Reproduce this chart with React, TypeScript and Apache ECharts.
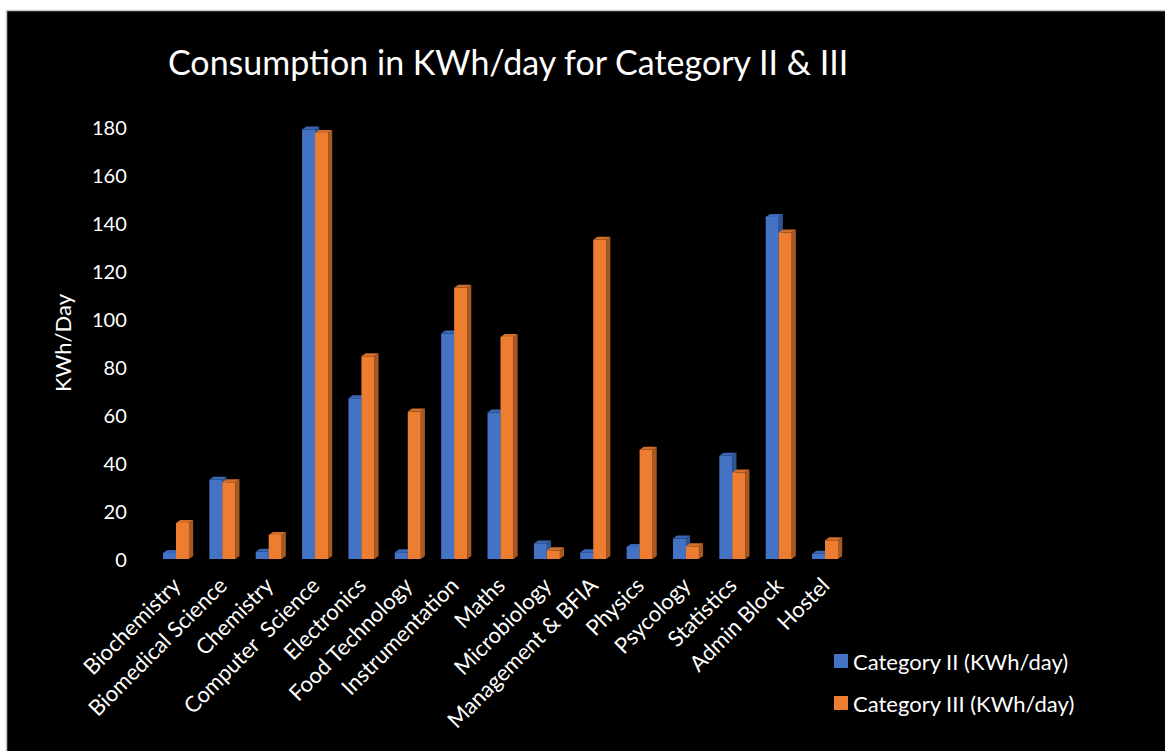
import React, { useEffect, useRef } from "react";
import * as echarts from "echarts";

const categories = [
  "Biochemistry",
  "Biomedical Science",
  "Chemistry",
  "Computer  Science",
  "Electronics",
  "Food Technology",
  "Instrumentation",
  "Maths",
  "Microbiology",
  "Management & BFIA",
  "Physics",
  "Psycology",
  "Statistics",
  "Admin Block",
  "Hostel",
];

const categoryII = [2.5, 33, 3, 179, 67, 2.8, 94, 61, 6.5, 2.8, 5, 8.5, 43, 142.5, 2.2];
const categoryIII = [15, 32, 10, 177.5, 84.5, 61.5, 113, 92.5, 3.6, 133, 45.5, 5.3, 36, 136, 7.8];

const yTicks = { min: 0, max: 180, interval: 20 };

const seriesNames = ["Category II (KWh/day)", "Category III (KWh/day)"];

const palettes = [
  { front: "#4472C4", side: "#2F5597", top: "#3A66B5" },
  { front: "#ED7D31", side: "#A65A22", top: "#D06E2A" },
];

const FONT = "Lato, 'Open Sans', sans-serif";

function makeRenderItem(sIdx: number) {
  const pal = palettes[sIdx];
  return (params: any, api: any) => {
    const xi = api.value(0);
    const v = api.value(1);
    const top = api.coord([xi, v]);
    const base = api.coord([xi, 0]);
    const band = api.size([1, 0])[0];
    const w = band * 0.28;
    const dx = band * 0.09;
    const dy = band * 0.065;
    const x0 = sIdx === 0 ? top[0] - w : top[0];
    const x1 = x0 + w;
    const ty = top[1];
    const by = base[1];
    return {
      type: "group",
      children: [
        {
          type: "polygon",
          shape: { points: [[x1, ty], [x1 + dx, ty - dy], [x1 + dx, by - dy], [x1, by]] },
          style: { fill: pal.side },
        },
        {
          type: "polygon",
          shape: { points: [[x0, ty], [x1, ty], [x1, by], [x0, by]] },
          style: { fill: pal.front },
        },
        {
          type: "polygon",
          shape: { points: [[x0, ty], [x0 + dx, ty - dy], [x1 + dx, ty - dy], [x1, ty]] },
          style: { fill: pal.top },
        },
      ],
    };
  };
}

export default function App() {
  const ref = useRef<HTMLDivElement>(null);
  useEffect(() => {
    if (!ref.current) return;
    const chart = echarts.init(ref.current, null, { renderer: "svg" });
    const seriesData = [categoryII, categoryIII];
    chart.setOption({
      animation: false,
      backgroundColor: "#ffffff",
      graphic: [
        {
          type: "rect",
          z: -10,
          silent: true,
          shape: { x: 6.5, y: 10.5, width: 1170, height: 760 },
          style: { fill: "#000000", stroke: "#c8c8c8", lineWidth: 1.5 },
        },
      ],
      title: {
        text: "Consumption in KWh/day for Category II & III",
        left: 163,
        top: 39,
        textStyle: { color: "#ffffff", fontSize: 34, fontWeight: "normal", fontFamily: FONT },
      },
      legend: {
        orient: "vertical",
        left: 834,
        top: 650,
        padding: 0,
        itemWidth: 14,
        itemHeight: 14,
        itemGap: 20,
        icon: "rect",
        textStyle: { color: "#ffffff", fontSize: 22, fontFamily: FONT, lineHeight: 22 },
        data: seriesNames,
      },
      grid: { left: 152.8, right: 1165 - 848.2, top: 127, bottom: 751 - 559, containLabel: false },
      xAxis: {
        type: "category",
        data: categories,
        boundaryGap: true,
        axisLine: { show: false },
        axisTick: { show: false },
        axisLabel: {
          rotate: 45,
          interval: 0,
          margin: 22,
          color: "#ffffff",
          fontSize: 22,
          fontFamily: FONT,
        },
      },
      yAxis: {
        type: "value",
        min: yTicks.min,
        max: yTicks.max,
        interval: yTicks.interval,
        name: "KWh/Day",
        nameLocation: "middle",
        nameGap: 79,
        nameRotate: 90,
        nameTextStyle: { color: "#ffffff", fontSize: 22, fontFamily: FONT },
        axisLine: { show: false },
        axisTick: { show: false },
        splitLine: { show: false },
        axisLabel: { color: "#ffffff", fontSize: 20, fontFamily: FONT, margin: 26 },
      },
      series: seriesData.map((arr, sIdx) => ({
        type: "custom",
        name: seriesNames[sIdx],
        renderItem: makeRenderItem(sIdx),
        itemStyle: { color: palettes[sIdx].front },
        encode: { x: 0, y: 1 },
        data: arr.map((v, i) => [i, v]),
        clip: false,
        z: 2 + sIdx,
      })),
    });
    return () => chart.dispose();
  }, []);
  return (
    <div
      ref={ref}
      style={{ position: "fixed", left: 0, top: 0, width: 1165, height: 751 }}
    />
  );
}
